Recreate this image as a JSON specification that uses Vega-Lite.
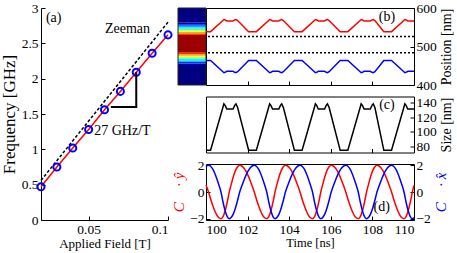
{
"$schema": "https://vega.github.io/schema/vega-lite/v6.json",
"padding": {"left": 0, "top": 0, "right": 0, "bottom": 0},
"background": "white",
"config": {
  "font": "Liberation Serif",
  "view": {"stroke": null},
  "axis": {"labelFont": "Liberation Serif", "titleFont": "Liberation Serif", "domainColor": "black", "tickColor": "black", "labelColor": "black", "titleColor": "black", "grid": false, "labelFontSize": 13.5, "titleFontSize": 13.5, "titleFontWeight": "normal", "tickSize": -4, "labelPadding": 6, "domainWidth": 1, "tickWidth": 1, "titlePadding": 3},
  "text": {"font": "Liberation Serif", "fontSize": 14}
},
"datasets": {
  "zee": [{"B": 0.02, "f": 0.56}, {"B": 0.1, "f": 2.8}],
  "freq": [{"B": 0.02, "f": 0.47}, {"B": 0.03, "f": 0.75}, {"B": 0.04, "f": 1.02}, {"B": 0.05, "f": 1.28}, {"B": 0.06, "f": 1.56}, {"B": 0.07, "f": 1.82}, {"B": 0.08, "f": 2.09}, {"B": 0.09, "f": 2.36}, {"B": 0.1, "f": 2.62}],
  "tri": [{"B": 0.064, "f": 1.6, "o": 1}, {"B": 0.08, "f": 1.6, "o": 2}, {"B": 0.08, "f": 2.09, "o": 3}],
  "alab": [{"B": 0.0745, "f": 2.7, "label": "Zeeman"}, {"B": 0.0713, "f": 1.26, "label": "27 GHz/T"}, {"B": 0.028, "f": 2.86, "label": "(a)"}],
  "cm": [{"y": 400, "y2": 452, "v": 0}, {"y": 452, "y2": 456, "v": 0.06}, {"y": 456, "y2": 460, "v": 0.14}, {"y": 460, "y2": 464, "v": 0.26}, {"y": 464, "y2": 468, "v": 0.38}, {"y": 468, "y2": 472, "v": 0.5}, {"y": 472, "y2": 476, "v": 0.62}, {"y": 476, "y2": 480, "v": 0.74}, {"y": 480, "y2": 484, "v": 0.86}, {"y": 484, "y2": 530, "v": 0.97}, {"y": 530, "y2": 534, "v": 0.86}, {"y": 534, "y2": 538, "v": 0.74}, {"y": 538, "y2": 542, "v": 0.62}, {"y": 542, "y2": 546, "v": 0.5}, {"y": 546, "y2": 550, "v": 0.38}, {"y": 550, "y2": 554, "v": 0.26}, {"y": 554, "y2": 558, "v": 0.14}, {"y": 558, "y2": 562, "v": 0.06}, {"y": 562, "y2": 600, "v": 0}],
  "dots": [{"p": 526}, {"p": 484}],
  "sz": [
    {"t": 100, "s": 75, "top": 538.5, "bot": 463.5},
    {"t": 100.22, "s": 75, "top": 538.5, "bot": 463.5},
    {"t": 100.8, "s": 132, "top": 567, "bot": 435},
    {"t": 100.86, "s": 138, "top": 570, "bot": 432},
    {"t": 100.92, "s": 136, "top": 569, "bot": 433},
    {"t": 101.0, "s": 131, "top": 566.5, "bot": 435.5},
    {"t": 101.3, "s": 131, "top": 566.5, "bot": 435.5},
    {"t": 101.38, "s": 136, "top": 569, "bot": 433},
    {"t": 101.44, "s": 138, "top": 570, "bot": 432},
    {"t": 101.52, "s": 133, "top": 567.5, "bot": 434.5},
    {"t": 102.05, "s": 75, "top": 538.5, "bot": 463.5},
    {"t": 102.42, "s": 75, "top": 538.5, "bot": 463.5},
    {"t": 103.0, "s": 132, "top": 567, "bot": 435},
    {"t": 103.06, "s": 138, "top": 570, "bot": 432},
    {"t": 103.12, "s": 136, "top": 569, "bot": 433},
    {"t": 103.2, "s": 131, "top": 566.5, "bot": 435.5},
    {"t": 103.5, "s": 131, "top": 566.5, "bot": 435.5},
    {"t": 103.58, "s": 136, "top": 569, "bot": 433},
    {"t": 103.64, "s": 138, "top": 570, "bot": 432},
    {"t": 103.72, "s": 133, "top": 567.5, "bot": 434.5},
    {"t": 104.25, "s": 75, "top": 538.5, "bot": 463.5},
    {"t": 104.62, "s": 75, "top": 538.5, "bot": 463.5},
    {"t": 105.2, "s": 132, "top": 567, "bot": 435},
    {"t": 105.26, "s": 138, "top": 570, "bot": 432},
    {"t": 105.32, "s": 136, "top": 569, "bot": 433},
    {"t": 105.4, "s": 131, "top": 566.5, "bot": 435.5},
    {"t": 105.7, "s": 131, "top": 566.5, "bot": 435.5},
    {"t": 105.78, "s": 136, "top": 569, "bot": 433},
    {"t": 105.84, "s": 138, "top": 570, "bot": 432},
    {"t": 105.92, "s": 133, "top": 567.5, "bot": 434.5},
    {"t": 106.45, "s": 75, "top": 538.5, "bot": 463.5},
    {"t": 106.82, "s": 75, "top": 538.5, "bot": 463.5},
    {"t": 107.4, "s": 132, "top": 567, "bot": 435},
    {"t": 107.46, "s": 138, "top": 570, "bot": 432},
    {"t": 107.52, "s": 136, "top": 569, "bot": 433},
    {"t": 107.6, "s": 131, "top": 566.5, "bot": 435.5},
    {"t": 107.9, "s": 131, "top": 566.5, "bot": 435.5},
    {"t": 107.98, "s": 136, "top": 569, "bot": 433},
    {"t": 108.04, "s": 138, "top": 570, "bot": 432},
    {"t": 108.12, "s": 133, "top": 567.5, "bot": 434.5},
    {"t": 108.55, "s": 75, "top": 538.5, "bot": 463.5},
    {"t": 108.92, "s": 75, "top": 538.5, "bot": 463.5},
    {"t": 109.5, "s": 132, "top": 567, "bot": 435},
    {"t": 109.56, "s": 138, "top": 570, "bot": 432},
    {"t": 109.62, "s": 136, "top": 569, "bot": 433},
    {"t": 109.7, "s": 131, "top": 566.5, "bot": 435.5},
    {"t": 110, "s": 131, "top": 566.5, "bot": 435.5}
  ],
  "ts": [
    {"t": 100, "cx": 1.92, "cy": 0.53},
    {"t": 100.02, "cx": 1.95, "cy": 0.45},
    {"t": 100.12, "cx": 2, "cy": 0}, {"t": 100.22, "cx": 1.93, "cy": -0.52}, {"t": 100.32, "cx": 1.73, "cy": -1}, {"t": 100.42, "cx": 1.41, "cy": -1.41}, {"t": 100.52, "cx": 1, "cy": -1.73}, {"t": 100.62, "cx": 0.52, "cy": -1.93}, {"t": 100.72, "cx": 0, "cy": -2}, {"t": 100.82, "cx": -0.77, "cy": -1.85}, {"t": 100.92, "cx": -1.41, "cy": -1.41}, {"t": 101.02, "cx": -1.85, "cy": -0.77}, {"t": 101.12, "cx": -2, "cy": 0}, {"t": 101.22, "cx": -1.9, "cy": 0.62}, {"t": 101.32, "cx": -1.62, "cy": 1.18}, {"t": 101.42, "cx": -1.18, "cy": 1.62}, {"t": 101.52, "cx": -0.62, "cy": 1.9}, {"t": 101.62, "cx": 0, "cy": 2}, {"t": 101.72, "cx": 0.45, "cy": 1.95}, {"t": 101.82, "cx": 0.87, "cy": 1.8}, {"t": 101.92, "cx": 1.25, "cy": 1.56}, {"t": 102.02, "cx": 1.56, "cy": 1.25}, {"t": 102.12, "cx": 1.8, "cy": 0.87}, {"t": 102.22, "cx": 1.95, "cy": 0.45},
    {"t": 102.32, "cx": 2, "cy": 0}, {"t": 102.42, "cx": 1.93, "cy": -0.52}, {"t": 102.52, "cx": 1.73, "cy": -1}, {"t": 102.62, "cx": 1.41, "cy": -1.41}, {"t": 102.72, "cx": 1, "cy": -1.73}, {"t": 102.82, "cx": 0.52, "cy": -1.93}, {"t": 102.92, "cx": 0, "cy": -2}, {"t": 103.02, "cx": -0.77, "cy": -1.85}, {"t": 103.12, "cx": -1.41, "cy": -1.41}, {"t": 103.22, "cx": -1.85, "cy": -0.77}, {"t": 103.32, "cx": -2, "cy": 0}, {"t": 103.42, "cx": -1.9, "cy": 0.62}, {"t": 103.52, "cx": -1.62, "cy": 1.18}, {"t": 103.62, "cx": -1.18, "cy": 1.62}, {"t": 103.72, "cx": -0.62, "cy": 1.9}, {"t": 103.82, "cx": 0, "cy": 2}, {"t": 103.92, "cx": 0.45, "cy": 1.95}, {"t": 104.02, "cx": 0.87, "cy": 1.8}, {"t": 104.12, "cx": 1.25, "cy": 1.56}, {"t": 104.22, "cx": 1.56, "cy": 1.25}, {"t": 104.32, "cx": 1.8, "cy": 0.87}, {"t": 104.42, "cx": 1.95, "cy": 0.45},
    {"t": 104.52, "cx": 2, "cy": 0}, {"t": 104.62, "cx": 1.93, "cy": -0.52}, {"t": 104.72, "cx": 1.73, "cy": -1}, {"t": 104.82, "cx": 1.41, "cy": -1.41}, {"t": 104.92, "cx": 1, "cy": -1.73}, {"t": 105.02, "cx": 0.52, "cy": -1.93}, {"t": 105.12, "cx": 0, "cy": -2}, {"t": 105.22, "cx": -0.77, "cy": -1.85}, {"t": 105.32, "cx": -1.41, "cy": -1.41}, {"t": 105.42, "cx": -1.85, "cy": -0.77}, {"t": 105.52, "cx": -2, "cy": 0}, {"t": 105.62, "cx": -1.9, "cy": 0.62}, {"t": 105.72, "cx": -1.62, "cy": 1.18}, {"t": 105.82, "cx": -1.18, "cy": 1.62}, {"t": 105.92, "cx": -0.62, "cy": 1.9}, {"t": 106.02, "cx": 0, "cy": 2}, {"t": 106.12, "cx": 0.45, "cy": 1.95}, {"t": 106.22, "cx": 0.87, "cy": 1.8}, {"t": 106.32, "cx": 1.25, "cy": 1.56}, {"t": 106.42, "cx": 1.56, "cy": 1.25}, {"t": 106.52, "cx": 1.8, "cy": 0.87}, {"t": 106.62, "cx": 1.95, "cy": 0.45},
    {"t": 106.72, "cx": 2, "cy": 0}, {"t": 106.82, "cx": 1.93, "cy": -0.52}, {"t": 106.92, "cx": 1.73, "cy": -1}, {"t": 107.02, "cx": 1.41, "cy": -1.41}, {"t": 107.12, "cx": 1, "cy": -1.73}, {"t": 107.22, "cx": 0.52, "cy": -1.93}, {"t": 107.32, "cx": 0, "cy": -2}, {"t": 107.42, "cx": -0.77, "cy": -1.85}, {"t": 107.52, "cx": -1.41, "cy": -1.41}, {"t": 107.62, "cx": -1.85, "cy": -0.77}, {"t": 107.72, "cx": -2, "cy": 0}, {"t": 107.82, "cx": -1.9, "cy": 0.62}, {"t": 107.92, "cx": -1.62, "cy": 1.18}, {"t": 108.02, "cx": -1.18, "cy": 1.62}, {"t": 108.12, "cx": -0.62, "cy": 1.9}, {"t": 108.22, "cx": 0, "cy": 2}, {"t": 108.32, "cx": 0.45, "cy": 1.95}, {"t": 108.42, "cx": 0.87, "cy": 1.8}, {"t": 108.52, "cx": 1.25, "cy": 1.56}, {"t": 108.62, "cx": 1.56, "cy": 1.25}, {"t": 108.72, "cx": 1.8, "cy": 0.87}, {"t": 108.82, "cx": 1.95, "cy": 0.45},
    {"t": 108.92, "cx": 2, "cy": 0}, {"t": 109.02, "cx": 1.93, "cy": -0.52}, {"t": 109.12, "cx": 1.73, "cy": -1}, {"t": 109.22, "cx": 1.41, "cy": -1.41}, {"t": 109.32, "cx": 1, "cy": -1.73}, {"t": 109.42, "cx": 0.52, "cy": -1.93}, {"t": 109.52, "cx": 0, "cy": -2}, {"t": 109.62, "cx": -0.77, "cy": -1.85}, {"t": 109.72, "cx": -1.41, "cy": -1.41}, {"t": 109.82, "cx": -1.85, "cy": -0.77}, {"t": 109.92, "cx": -2, "cy": 0},
    {"t": 110, "cx": -1.92, "cy": 0.5}
  ]
},
"spacing": -5,
"hconcat": [
  {
    "width": 127, "height": 212,
    "layer": [
      {"data": {"name": "zee"}, "mark": {"type": "line", "color": "black", "strokeDash": [3, 2], "strokeWidth": 1.5},
       "encoding": {
         "x": {"field": "B", "type": "quantitative", "scale": {"domain": [0.02, 0.1], "nice": false, "zero": false}, "axis": {"values": [0.05, 0.1], "tickCount": 20, "format": "~g", "tickSize": -4, "labelPadding": 6, "labelOverlap": false, "labelFont": "Liberation Serif", "labelFontSize": 13.5, "title": "Applied Field [T]", "titleFont": "Liberation Serif", "titleFontSize": 13, "titleFontWeight": "normal", "titlePadding": 2}},
         "y": {"field": "f", "type": "quantitative", "scale": {"domain": [0, 3], "nice": false}, "axis": {"values": [0, 0.5, 1, 1.5, 2, 2.5, 3], "tickCount": 20, "format": "~g", "tickSize": -4, "labelPadding": 7, "labelOverlap": false, "labelFont": "Liberation Serif", "labelFontSize": 13.5, "title": "Frequency [GHz]", "titleFont": "Liberation Serif", "titleFontSize": 17, "titleFontWeight": "normal", "titlePadding": 3}}}},
      {"data": {"name": "freq"}, "mark": {"type": "line", "color": "#ff0000", "strokeWidth": 1.5},
       "encoding": {"x": {"field": "B", "type": "quantitative"}, "y": {"field": "f", "type": "quantitative"}}},
      {"data": {"name": "freq"}, "mark": {"type": "point", "shape": "circle", "filled": false, "color": "#0000ff", "strokeWidth": 2, "size": 50, "opacity": 1},
       "encoding": {"x": {"field": "B", "type": "quantitative"}, "y": {"field": "f", "type": "quantitative"}}},
      {"data": {"name": "tri"}, "mark": {"type": "line", "color": "black", "strokeWidth": 2},
       "encoding": {"x": {"field": "B", "type": "quantitative"}, "y": {"field": "f", "type": "quantitative"}, "order": {"field": "o"}}},
      {"data": {"name": "alab"}, "mark": {"type": "text", "fontSize": 14, "color": "black", "font": "Liberation Serif"},
       "encoding": {"x": {"field": "B", "type": "quantitative"}, "y": {"field": "f", "type": "quantitative"}, "text": {"field": "label"}}}
    ]
  },
  {
    "vconcat": [
      {
        "width": 208, "height": 77, "view": {"stroke": "black"},
        "layer": [
          {"data": {"name": "cm"}, "mark": {"type": "rect"},
           "encoding": {
             "x": {"datum": 98.654, "type": "quantitative", "scale": {"domain": [100, 110], "nice": false, "zero": false}, "axis": {"values": [102, 104, 106, 108], "tickCount": 20, "tickSize": -4, "labels": false, "domain": false, "title": null}},
             "x2": {"datum": 100},
             "y": {"field": "y", "type": "quantitative", "scale": {"domain": [400, 600], "nice": false, "zero": false}, "axis": {"orient": "right", "values": [400, 500, 600], "tickCount": 20, "format": "d", "tickSize": -4, "labelPadding": 6, "labelOverlap": false, "labelFont": "Liberation Serif", "labelFontSize": 13.5, "domain": false, "title": "Position [nm]", "titleFont": "Liberation Serif", "titleFontWeight": "normal", "titleAngle": 270, "titleBaseline": "top", "titleFontSize": 14, "titlePadding": 3}},
             "y2": {"field": "y2"},
             "color": {"field": "v", "type": "quantitative", "scale": {"domain": [0, 0.125, 0.375, 0.625, 0.875, 1], "range": ["#000080", "#0000ff", "#00ffff", "#ffff00", "#ff0000", "#800000"]}, "legend": null}}},
          {"data": {"values": [{"a": 400, "b": 600}]}, "mark": {"type": "rect", "fill": null, "stroke": "#222222", "strokeWidth": 1},
           "encoding": {"x": {"datum": 98.654, "type": "quantitative"}, "x2": {"datum": 100}, "y": {"field": "a", "type": "quantitative"}, "y2": {"field": "b"}}},
          {"data": {"name": "dots"}, "mark": {"type": "rule", "color": "black", "strokeDash": [2, 2], "strokeWidth": 1.5},
           "encoding": {"y": {"field": "p", "type": "quantitative"}}},
          {"data": {"name": "sz"}, "mark": {"type": "line", "color": "#ff0000", "strokeWidth": 1.5},
           "encoding": {"x": {"field": "t", "type": "quantitative"}, "y": {"field": "top", "type": "quantitative"}}},
          {"data": {"name": "sz"}, "mark": {"type": "line", "color": "#0000ff", "strokeWidth": 1.5},
           "encoding": {"x": {"field": "t", "type": "quantitative"}, "y": {"field": "bot", "type": "quantitative"}}},
          {"data": {"values": [{"t": 108.7, "p": 577, "label": "(b)"}]}, "mark": {"type": "text", "fontSize": 14, "color": "black", "font": "Liberation Serif"},
           "encoding": {"x": {"field": "t", "type": "quantitative"}, "y": {"field": "p", "type": "quantitative"}, "text": {"field": "label"}}}
        ]
      },
      {
        "width": 208, "height": 56, "view": {"stroke": "black"},
        "layer": [
          {"data": {"name": "sz"}, "mark": {"type": "line", "color": "black", "strokeWidth": 1.5},
           "encoding": {
             "x": {"field": "t", "type": "quantitative", "scale": {"domain": [100, 110], "nice": false, "zero": false}, "axis": {"values": [102, 104, 106, 108], "tickCount": 20, "tickSize": -4, "labels": false, "domain": false, "title": null}},
             "y": {"field": "s", "type": "quantitative", "scale": {"domain": [72, 148], "nice": false, "zero": false}, "axis": {"orient": "right", "values": [80, 100, 120, 140], "tickCount": 20, "format": "d", "tickSize": -4, "labelPadding": 6, "labelOverlap": false, "labelFont": "Liberation Serif", "labelFontSize": 13.5, "domain": false, "title": "Size [nm]", "titleFont": "Liberation Serif", "titleFontWeight": "normal", "titleAngle": 270, "titleBaseline": "top", "titleFontSize": 14, "titlePadding": 3}}}},
          {"data": {"values": [{"t": 108.7, "s": 137, "label": "(c)"}]}, "mark": {"type": "text", "fontSize": 14, "color": "black", "font": "Liberation Serif"},
           "encoding": {"x": {"field": "t", "type": "quantitative"}, "y": {"field": "s", "type": "quantitative"}, "text": {"field": "label"}}}
        ]
      },
      {
        "width": 208, "height": 56, "view": {"stroke": "black"},
        "layer": [
          {"data": {"name": "ts"}, "mark": {"type": "line", "color": "#ff0000", "strokeWidth": 1.5, "interpolate": "monotone"},
           "encoding": {
             "x": {"field": "t", "type": "quantitative", "scale": {"domain": [100, 110], "nice": false, "zero": false}, "axis": {"values": [100, 102, 104, 106, 108, 110], "tickCount": 20, "format": "d", "tickSize": -4, "labelPadding": 6, "labelOverlap": false, "labelFont": "Liberation Serif", "labelFontSize": 13.5, "domain": false, "title": "Time [ns]", "titleFont": "Liberation Serif", "titleFontWeight": "normal", "titleFontSize": 12.5, "titlePadding": 1}},
             "y": {"field": "cy", "type": "quantitative", "scale": {"domain": [-2.1, 2.1], "nice": false}, "axis": {"orient": "left", "values": [-2, 0, 2], "tickCount": 20, "format": "~g", "tickSize": -4, "labelPadding": 6, "labelOverlap": false, "labelFont": "Liberation Serif", "labelFontSize": 13.5, "domain": false, "title": "C\u20d7 · \u0177", "titleFont": "Liberation Serif", "titleColor": "#ff0000", "titleFontStyle": "italic", "titleFontWeight": "normal", "titleFontSize": 15, "titleAngle": 270, "titlePadding": 3}}}},
          {"data": {"name": "ts"}, "mark": {"type": "line", "color": "#0000ff", "strokeWidth": 1.5, "interpolate": "monotone"},
           "encoding": {
             "x": {"field": "t", "type": "quantitative"},
             "y": {"field": "cx", "type": "quantitative", "scale": {"domain": [-2.1, 2.1], "nice": false}, "axis": {"orient": "right", "values": [-2, 0, 2], "tickCount": 20, "format": "~g", "tickSize": -4, "labelPadding": 6, "labelOverlap": false, "labelFont": "Liberation Serif", "labelFontSize": 13.5, "domain": false, "title": "C\u20d7 · x\u0302", "titleFont": "Liberation Serif", "titleColor": "#0000ff", "titleFontStyle": "italic", "titleFontWeight": "normal", "titleFontSize": 15, "titleAngle": 270, "titleBaseline": "top", "titlePadding": 3}}}},
          {"data": {"values": [{"t": 108.45, "v": -1.1, "label": "(d)"}]}, "mark": {"type": "text", "fontSize": 14, "color": "black", "font": "Liberation Serif"},
           "encoding": {"x": {"field": "t", "type": "quantitative"}, "y": {"field": "v", "type": "quantitative", "scale": {"domain": [-2.1, 2.1], "nice": false}, "axis": null}, "text": {"field": "label"}}}
        ],
        "resolve": {"scale": {"y": "independent"}, "axis": {"y": "independent"}}
      }
    ],
    "spacing": 11.5,
    "bounds": "flush"
  }
]
}
